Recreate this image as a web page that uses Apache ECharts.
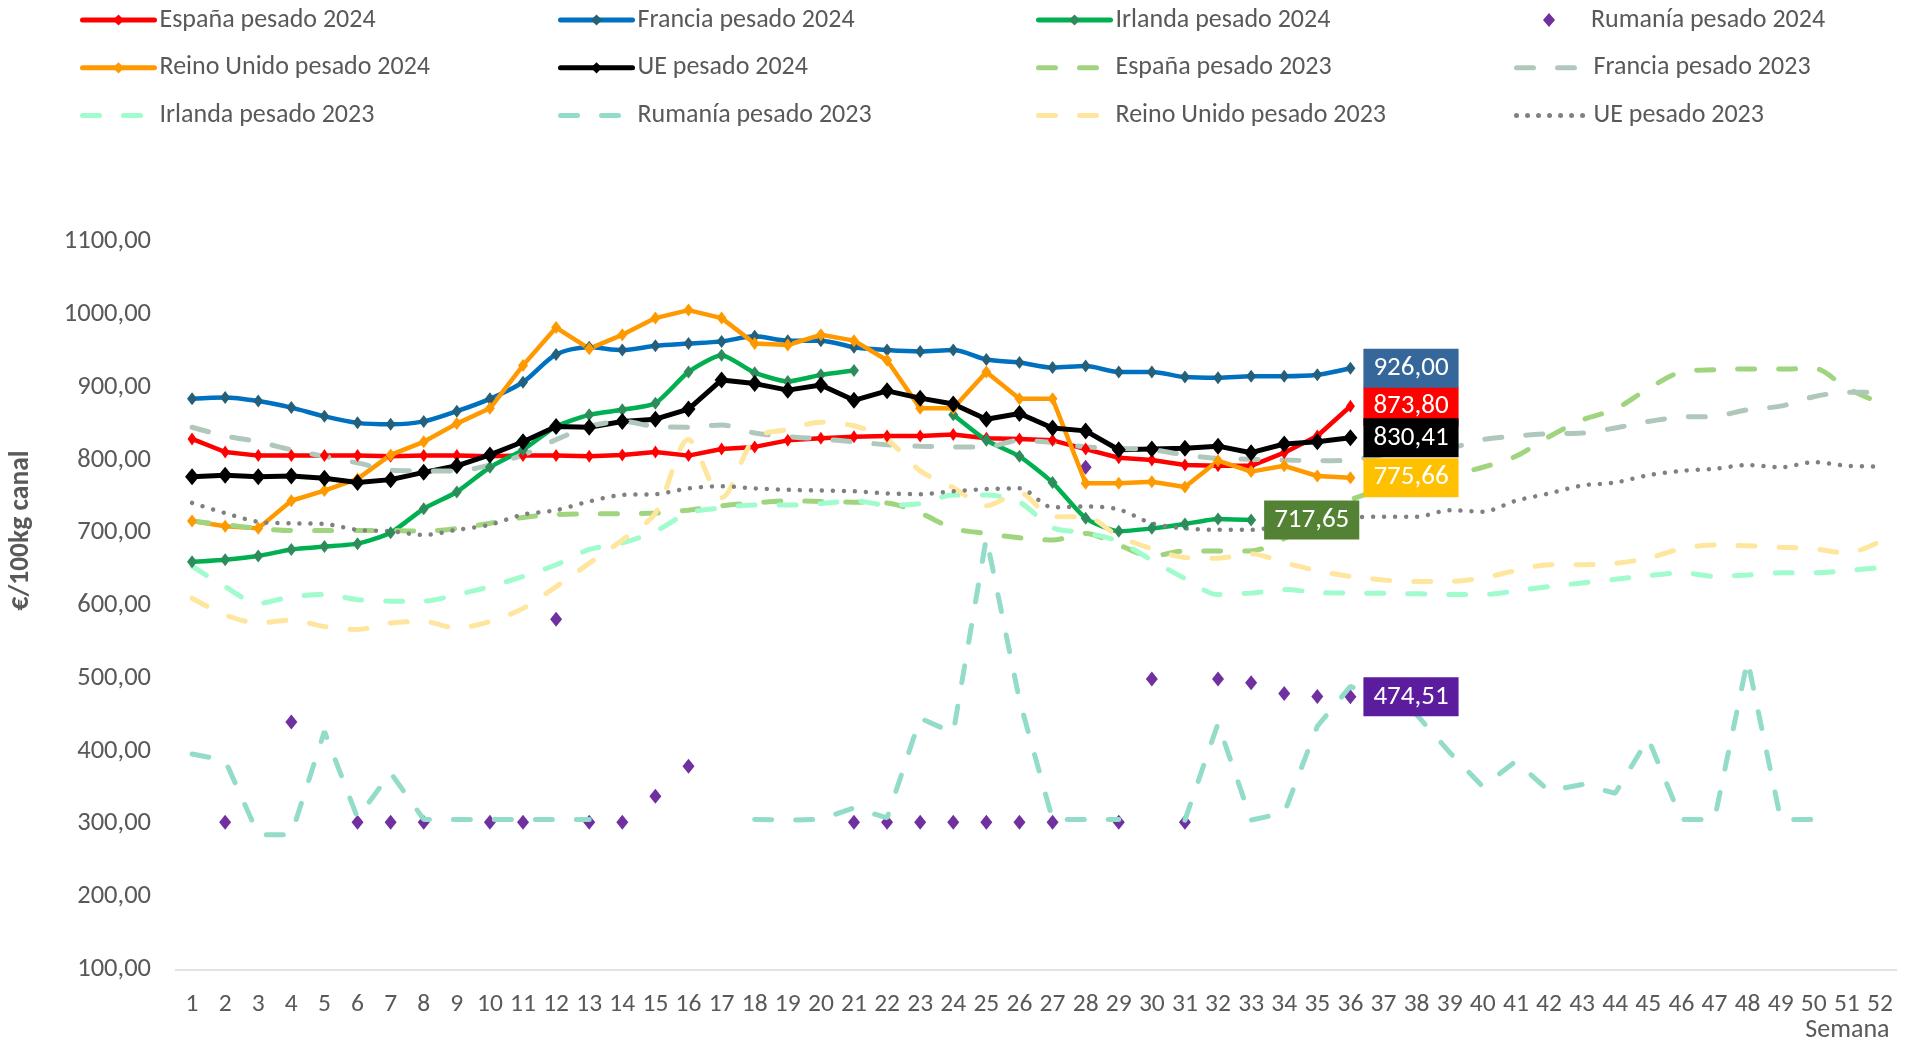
<!DOCTYPE html>
<html>
<head>
<meta charset="utf-8">
<script src="https://cdn.jsdelivr.net/npm/echarts@6/dist/echarts.min.js"></script>
<style>
  html, body { margin: 0; padding: 0; background: #fff; }
  #chart { width: 1916px; height: 1043px; }
</style>
</head>
<body>
<div id="chart"></div>
<script>
// semanas del año
var semanas = ['1','2','3','4','5','6','7','8','9','10','11','12','13','14','15','16','17','18','19','20','21','22','23','24','25','26',
               '27','28','29','30','31','32','33','34','35','36','37','38','39','40','41','42','43','44','45','46','47','48','49','50','51','52'];

// 2024 (semanas 1-36)
var espana2024 = [829, 811, 806, 806, 806, 806, 805, 806, 806, 805, 806, 806, 805, 807, 811, 806, 815, 818, 827, 830, 832, 833, 833, 835, 830, 829, 827, 815, 803, 800, 793, 792, 792, 810, 833, 873.80];
var francia2024 = [884, 886, 881, 872, 860, 851, 849, 853, 867, 884, 907, 945, 955, 951, 957, 960, 963, 970, 964, 964, 955, 951, 949, 951, 938, 934, 927, 929, 921, 921, 914, 913, 915, 915, 917, 926.00];
var irlanda2024 = [660, 663, 668, 677, 681, 685, 700, 733, 756, 790, 814, 846, 862, 869, 878, 921, 944, 920, 908, 917, 923, null, null, 862, 827, 805, 769, 720, 702, 706, 712, 719, 717.65];
var rumania2024 = [null, 302, null, 440, null, 302, 302, 302, null, 302, 302, 581, 302, 302, 338, 379, null, null, null, null, 302, 302, 302, 302, 302, 302, 302, 790, 302, 499, 302, 499, 494, 479, 475, 474.51];
var reinoUnido2024 = [716, 709, 706, 744, 758, 774, 807, 825, 850, 871, 930, 982, 953, 972, 995, 1006, 995, 960, 958, 972, 964, 937, 871, 871, 921, 884, 884, 768, 768, 770, 763, 799, 784, 792, 778, 775.66];
var ue2024 = [777, 779, 777, 778, 775, 769, 773, 783, 792, 807, 825, 846, 845, 853, 856, 870, 910, 905, 896, 903, 882, 895, 885, 877, 856, 864, 844, 840, 814, 815, 816, 819, 810, 822, 825, 830.41];

// 2023 (año completo)
var espana2023 = [716, 711, 706, 703, 703, 703, 703, 702, 706, 713, 721, 725, 726, 726, 727, 731, 737, 741, 744, 743, 742, 741, 727, 706, 699, 693, 690, 699, 683, 668, 675, 675, 675, 692, 718, 745, 760, 770, 779, 790, 805, 832, 855, 870, 898, 921, 924, 925, 925, 926, 899, 878];
var francia2023 = [845, 833, 825, 814, 805, 796, 786, 785, 785, 793, 807, 828, 846, 853, 846, 845, 848, 837, 832, 829, 825, 821, 819, 818, 818, 827, 824, 818, 816, 814, 807, 802, 801, 800, 799, 800, 807, 809, 816, 828, 833, 836, 837, 844, 853, 859, 860, 869, 874, 887, 893, 893];
var irlanda2023 = [654, 626, 603, 612, 615, 608, 606, 606, 615, 626, 640, 656, 677, 686, 702, 727, 734, 738, 738, 740, 744, 738, 740, 752, 752, 742, 707, 700, 688, 662, 637, 615, 617, 622, 618, 617, 617, 616, 615, 615, 620, 626, 631, 636, 641, 645, 640, 642, 645, 645, 648, 652];
var rumania2023 = [396, 387, 285, 285, 427, 308, 370, 306, 306, 306, 306, 306, 306, null, null, null, null, 306, 305, 306, 322, 308, 445, 425, 693, 470, 306, 306, 306, null, 305, 438, 305, 315, 434, 489, 468, 450, 398, 351, 386, 345, 354, 342, 417, 306, 306, 525, 306, 306, null, null];
var reinoUnido2023 = [610, 587, 576, 580, 571, 567, 576, 578, 569, 578, 596, 626, 658, 690, 727, 828, 748, 830, 842, 852, 847, 828, 785, 762, 737, 755, 722, 722, 695, 678, 666, 665, 671, 659, 648, 640, 635, 633, 633, 638, 648, 656, 656, 658, 665, 678, 683, 682, 680, 678, 672, 688];
var ue2023 = [741, 727, 715, 713, 712, 704, 702, 697, 704, 711, 725, 731, 743, 752, 753, 761, 764, 761, 759, 758, 757, 754, 753, 757, 760, 761, 735, 736, 732, 713, 706, 704, 704, 710, 717, 721, 722, 722, 731, 729, 744, 754, 765, 769, 779, 785, 788, 793, 790, 797, 792, 791];

var FONT = 'Calibri, Carlito, "Liberation Sans Narrow", "Open Sans", sans-serif';
var GRIS = '#595959';
var DASH = [17, 24];

var chart = echarts.init(document.getElementById('chart'));

function coma(v) {
    return v.toFixed(2).replace('.', ',');
}

function linea2024(nombre, datos, color, marcador, tam, ancho, suave) {
    return {
        name: nombre,
        type: 'line',
        data: datos,
        smooth: suave,
        symbol: 'diamond',
        symbolSize: tam,
        showAllSymbol: true,
        connectNulls: false,
        lineStyle: { color: color, width: ancho },
        itemStyle: { color: marcador },
        emphasis: { disabled: true }
    };
}

function linea2023(nombre, datos, color, tipo, ancho, suave) {
    return {
        name: nombre,
        type: 'line',
        data: datos,
        smooth: suave,
        symbol: 'none',
        connectNulls: false,
        lineStyle: { color: color, width: ancho, type: tipo, cap: 'round' },
        itemStyle: { color: color },
        emphasis: { disabled: true }
    };
}

var series = [
    linea2024('España pesado 2024', espana2024, '#FF0000', '#FF0000', [9, 13], 4.5, false),
    linea2024('Francia pesado 2024', francia2024, '#0070C0', '#24607A', [10, 13], 4.5, 0.3),
    linea2024('Irlanda pesado 2024', irlanda2024, '#00B050', '#2E8B5C', [10, 13], 4.5, 0.2),
    {
        name: 'Rumanía pesado 2024',
        type: 'scatter',
        data: rumania2024,
        symbol: 'diamond',
        symbolSize: [12, 15],
        itemStyle: { color: '#7030A0', opacity: 1 },
        emphasis: { disabled: true }
    },
    linea2024('Reino Unido pesado 2024', reinoUnido2024, '#FF9900', '#FF9900', [10, 13], 4.5, false),
    linea2024('UE pesado 2024', ue2024, '#000000', '#000000', [14, 17], 5, false),
    linea2023('España pesado 2023', espana2023, '#A0D47F', DASH, 5, 0.3),
    linea2023('Francia pesado 2023', francia2023, '#B0C8BC', DASH, 5, 0.3),
    linea2023('Irlanda pesado 2023', irlanda2023, '#A0FBCD', DASH, 5, 0.3),
    linea2023('Rumanía pesado 2023', rumania2023, '#92DCC9', DASH, 5, false),
    linea2023('Reino Unido pesado 2023', reinoUnido2023, '#FFE69E', DASH, 5, 0.3),
    linea2023('UE pesado 2023', ue2023, '#808080', [0.01, 11], 4.5, 0.3)
];

// etiquetas del último dato de 2024, encima de todas las líneas
var etiquetas = [
    [espana2024, '#FF0000'],
    [francia2024, '#35679A'],
    [reinoUnido2024, '#FFC000'],
    [ue2024, '#000000'],
    [irlanda2024, '#548235'],
    [rumania2024, '#5B1C9E']
];
series.push({
    type: 'scatter',
    z: 10,
    silent: true,
    symbol: 'diamond',
    symbolSize: [10, 13],
    itemStyle: { color: 'transparent', opacity: 1 },
    data: etiquetas.map(function (e) {
        var i = e[0].length - 1;
        return {
            value: [semanas[i], e[0][i]],
            label: {
                show: true,
                position: 'right',
                distance: 8,
                formatter: coma(e[0][i]),
                backgroundColor: e[1],
                color: '#fff',
                opacity: 1,
                fontSize: 27,
                fontFamily: FONT,
                padding: [7, 10, 5, 10]
            }
        };
    })
});

// leyenda en cuatro columnas y tres filas
var legend = series.slice(0, 12).map(function (s, i) {
    var item = {
        data: [s.name],
        left: 80 + (i % 4) * 478,
        top: 7 + Math.floor(i / 4) * 47.8,
        padding: 0,
        itemWidth: 72,
        itemHeight: 14,
        selectedMode: false,
        lineStyle: { width: 5, cap: 'round' },
        textStyle: { fontSize: 26, color: GRIS, fontFamily: FONT }
    };
    if (s.type === 'scatter') {
        item.left += 29;
        item.itemWidth = 12;
        item.itemHeight = 14;
        item.textStyle.padding = [0, 0, 0, 31];
    } else if (s.symbol === 'none') {
        item.itemStyle = { opacity: 0 };
    }
    return item;
});

var option = {
    animation: false,
    backgroundColor: '#fff',
    legend: legend,
    grid: {
        left: 175.5,
        right: 19.5,
        top: 241.7,
        bottom: 73.7,
        containLabel: false,
        outerBoundsMode: 'none'
    },
    xAxis: {
        type: 'category',
        data: semanas,
        boundaryGap: true,
        name: 'Semana',
        nameLocation: 'end',
        nameGap: -7,
        nameTextStyle: { fontSize: 26, color: GRIS, fontFamily: FONT, align: 'right', verticalAlign: 'top', padding: [48, 0, 0, 0] },
        axisLine: { lineStyle: { color: '#D9D9D9', width: 1.5 } },
        axisTick: { show: false },
        axisLabel: { interval: 0, margin: 22, fontSize: 25.5, color: GRIS, fontFamily: FONT }
    },
    yAxis: {
        type: 'value',
        min: 100,
        max: 1100,
        interval: 100,
        name: '€/100kg canal',
        nameLocation: 'middle',
        nameRotate: 90,
        nameGap: 140,
        nameTextStyle: { fontSize: 27.5, fontWeight: 'bold', color: GRIS, fontFamily: FONT, padding: [0, 0, 0, 150] },
        axisLine: { show: false },
        axisTick: { show: false },
        splitLine: { show: false },
        axisLabel: {
            margin: 24.5,
            fontSize: 26.5,
            color: GRIS,
            fontFamily: FONT,
            formatter: function (v) { return coma(v); }
        }
    },
    series: series
};

chart.setOption(option);
</script>
</body>
</html>
